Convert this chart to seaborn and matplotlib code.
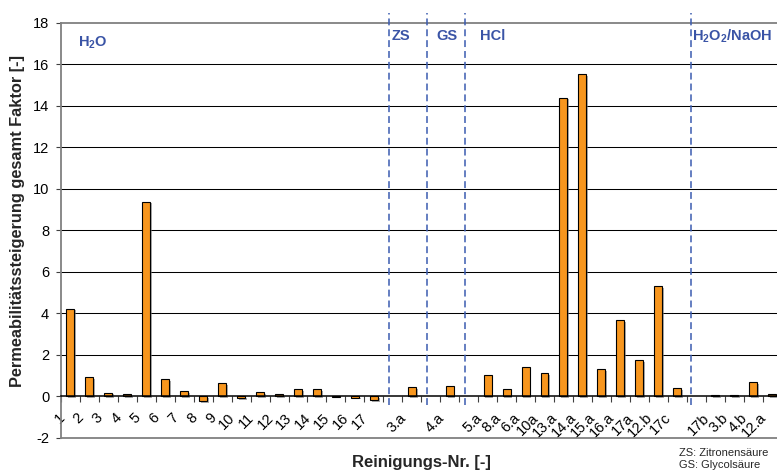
import numpy as np
import pandas as pd
import matplotlib
matplotlib.use("Agg")
import matplotlib.pyplot as plt
import matplotlib.patheffects as pe
from matplotlib.transforms import ScaledTranslation
import seaborn as sns

# Cleaning runs in plotting order; empty strings are spacer slots between groups
labels = ["1", "2", "3", "4", "5", "6", "7", "8", "9", "10", "11", "12", "13",
          "14", "15", "16", "17", "", "3.a", "", "4.a", "", "5.a", "8.a", "6.a",
          "10a", "13.a", "14.a", "15.a", "16.a", "17a", "12.b", "17c", "",
          "17b", "3.b", "4.b", "12.a"]
values = [4.22, 0.90, 0.17, 0.08, 9.38, 0.82, 0.22, -0.24, 0.63, -0.08, 0.20,
          0.11, 0.33, 0.33, -0.03, -0.07, -0.20, None, 0.43, None, 0.50, None,
          1.02, 0.34, 1.42, 1.10, 14.40, 15.52, 1.30, 3.68, 1.74, 5.30, 0.38,
          None, 0.04, 0.04, 0.68, 0.09]

# Cleaning-agent groups: separator positions and group titles
separators = [16.8, 18.8, 20.8, 32.75]
group_names = ["H$_\\mathbf{2}$O", "ZS", "GS", "HCl",
               "H$_\\mathbf{2}$O$_\\mathbf{2}$/NaOH"]
group_x = [0.42, 16.96, 19.29, 21.61, 32.77]
group_y = [17.05, 17.35, 17.35, 17.35, 17.35]

yticks = list(range(-2, 19, 2))

sns.set_theme(style="white")
plt.rcParams["font.family"] = ["Liberation Sans", "DejaVu Sans"]
plt.rcParams["mathtext.fontset"] = "custom"
plt.rcParams["mathtext.rm"] = "Liberation Sans"
plt.rcParams["mathtext.bf"] = "Liberation Sans:bold"

slots = list(range(len(labels)))
df = pd.DataFrame({"slot": slots, "value": values}).dropna()

fig = plt.figure(figsize=(7.77, 4.72), dpi=100)
ax = fig.add_axes([61 / 777, 1 - 437.5 / 472, 720.5 / 777, 414.5 / 472])

sns.barplot(data=df, x="slot", y="value", order=slots, width=0.42,
            color="#F7961E", saturation=1, edgecolor="black", linewidth=0.8,
            ax=ax, zorder=3)
for p in ax.patches:
    p.set_path_effects([pe.SimplePatchShadow(offset=(1.3, -1.3),
                                             shadow_rgbFace="0.45", alpha=0.6),
                        pe.Normal()])

ax.set_xlim(-0.5, len(labels) - 0.5)
ax.set_ylim(-2, 18)

# horizontal grid
for y in yticks[1:-1]:
    if y != 0:
        ax.axhline(y, color="black", lw=0.75, zorder=1)
ax.axhline(-2, color="#808080", lw=1.3, zorder=4, clip_on=False)

# frame
ax.spines["right"].set_visible(False)
ax.spines["top"].set_color("#808080")
ax.spines["top"].set_linewidth(1.3)
ax.spines["left"].set_color("#808080")
ax.spines["left"].set_linewidth(1.3)
ax.spines["bottom"].set_visible(True)
ax.spines["bottom"].set_position(("data", 0))
ax.spines["bottom"].set_color("black")
ax.spines["bottom"].set_linewidth(1.1)
ax.spines["bottom"].set_zorder(5)

ax.set_yticks(yticks)
ax.set_yticklabels([str(t) for t in yticks], fontsize=10.5, color="black")
ax.tick_params(axis="y", which="major", length=3.5, width=0.8,
               color="#404040", direction="out", pad=5, left=True)

ax.set_xticks(slots)
ax.set_xticklabels(labels, fontsize=10.5, color="black", rotation=45,
                   ha="right", va="center", rotation_mode="anchor")
ax.set_xticks(np.arange(-0.5, len(labels), 1), minor=True)
ax.tick_params(axis="x", which="major", length=0, pad=14, bottom=True)
ax.tick_params(axis="x", which="minor", length=4.5, width=0.8,
               color="#404040", direction="out", bottom=True)
offset = ScaledTranslation(-8 / 100, 0, fig.dpi_scale_trans)
for lab in ax.get_xticklabels():
    lab.set_transform(lab.get_transform() + offset)

ax.set_xlabel("")
ax.set_ylabel("")

# group separators and titles
for sx in separators:
    ax.axvline(sx, ymin=0.078, ymax=1.024, color="#3A5BB0", lw=1.1,
               linestyle=(0, (4.5, 2.6)), clip_on=False, zorder=6)
for name, gx, gy in zip(group_names, group_x, group_y):
    ax.text(gx, gy, name, color="#3A54A6", fontsize=10.5, fontweight="bold",
            ha="left", va="center", zorder=7)

fig.text(421 / 777, 1 - 463 / 472, "Reinigungs-Nr. [-]", fontsize=12,
         fontweight="bold", ha="center", va="center")
fig.text(18 / 777, 1 - 221 / 472, "Permeabilitätssteigerung gesamt Faktor [-]",
         fontsize=11.8, fontweight="bold", rotation=90, ha="center", va="center")
fig.text(679 / 777, 1 - 453 / 472, "ZS: Zitronensäure", fontsize=8,
         ha="left", va="center")
fig.text(679 / 777, 1 - 465 / 472, "GS: Glycolsäure", fontsize=8,
         ha="left", va="center")

fig.savefig("out.png", dpi=100)
